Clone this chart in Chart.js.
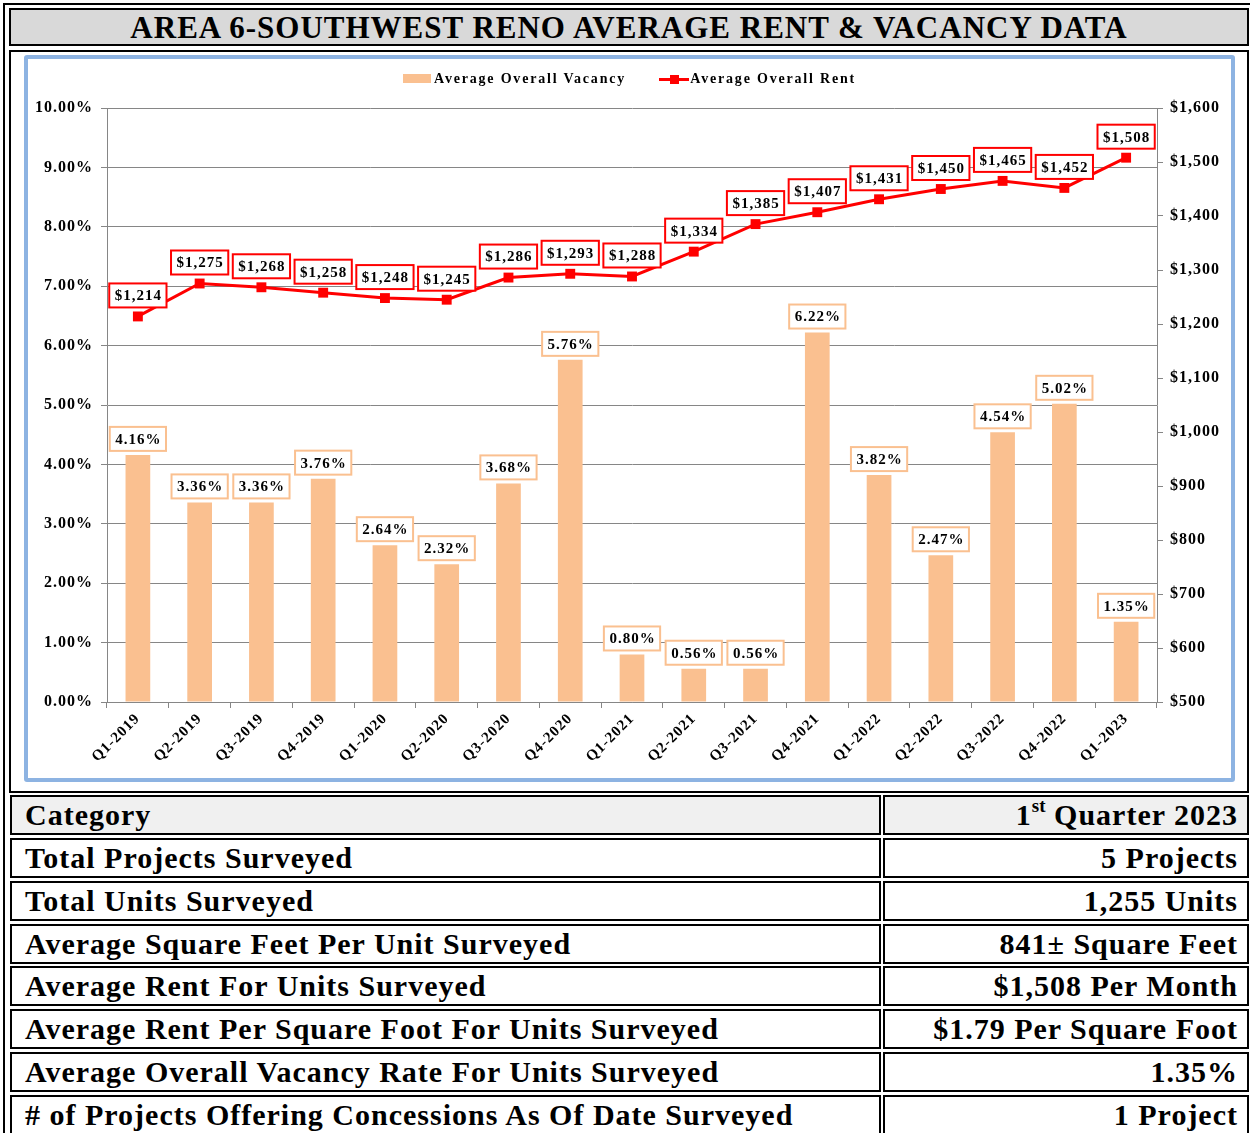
<!DOCTYPE html>
<html>
<head>
<meta charset="utf-8">
<script src="https://cdn.jsdelivr.net/npm/chart.js@4.4.0/dist/chart.umd.min.js"></script>
<style>
  html, body { margin:0; padding:0; background:#fff; }
  body { width:1250px; height:1133px; overflow:hidden; position:relative; font-family:"Liberation Serif","Times New Roman",serif; }
  .abs { position:absolute; box-sizing:border-box; }
  #frame { left:3px; top:3px; width:1270px; height:1200px; border:2px solid #000; }
  .cell { border:2px solid #000; background:#fff; }
  #title { left:9px; top:8px; width:1240px; height:38px; background:#d9d9d9; font-weight:bold; font-size:31px; letter-spacing:1px; text-align:center; line-height:35px; }
  #chartcell { left:9px; top:50px; width:1240px; height:743px; }
  #bluebox { left:24px; top:55px; width:1211px; height:727px; border:4px solid #8db3e2; border-radius:3px; }
  #wrap { left:28px; top:59px; width:1203px; height:719px; }
  #legend { left:28px; top:70px; width:1203px; height:20px; text-align:center; font-weight:bold; font-size:14px; letter-spacing:1.8px; white-space:nowrap; }
  #legend span { display:inline-block; vertical-align:middle; }
  .row { font-weight:bold; font-size:30px; letter-spacing:1px; line-height:36px; white-space:nowrap; }
  .lc { padding-left:13px; }
  .rc { padding-right:9px; text-align:right; }
  sup { font-size:19px; line-height:0; position:relative; top:-2px; letter-spacing:0; }
</style>
</head>
<body>
<div id="frame" class="abs"></div>
<div id="title" class="abs cell">AREA 6-SOUTHWEST RENO AVERAGE RENT &amp; VACANCY DATA</div>
<div id="chartcell" class="abs cell"></div>
<div id="bluebox" class="abs"></div>
<div id="wrap" class="abs"><canvas id="myChart"></canvas></div>
<div id="legend" class="abs">
  <span style="width:28px;height:9px;background:#fac090;margin-right:3px;"></span><span>Average Overall Vacancy</span>
  <span style="width:30px;height:12px;position:relative;margin-left:28px;margin-right:1px;">
    <span style="position:absolute;left:0;top:5px;width:30px;height:3px;background:#ff0000;"></span>
    <span style="position:absolute;left:11px;top:2px;width:9px;height:9px;background:#ff0000;"></span>
  </span><span>Average Overall Rent</span>
</div>

<script>
var quarters = ['Q1-2019','Q2-2019','Q3-2019','Q4-2019','Q1-2020','Q2-2020','Q3-2020','Q4-2020',
                'Q1-2021','Q2-2021','Q3-2021','Q4-2021','Q1-2022','Q2-2022','Q3-2022','Q4-2022','Q1-2023'];
var vacancy  = [4.16, 3.36, 3.36, 3.76, 2.64, 2.32, 3.68, 5.76, 0.80, 0.56, 0.56, 6.22, 3.82, 2.47, 4.54, 5.02, 1.35];
var rent     = [1214, 1275, 1268, 1258, 1248, 1245, 1286, 1293, 1288, 1334, 1385, 1407, 1431, 1450, 1465, 1452, 1508];

var tableLabels = ['Category','Total Projects Surveyed','Total Units Surveyed','Average Square Feet Per Unit Surveyed',
                   'Average Rent For Units Surveyed','Average Rent Per Square Foot For Units Surveyed',
                   'Average Overall Vacancy Rate For Units Surveyed','# of Projects Offering Concessions As Of Date Surveyed'];
var tableValues = ['1<sup>st</sup> Quarter 2023','5 Projects','1,255 Units','841\u00b1 Square Feet',
                   '$1,508 Per Month','$1.79 Per Square Foot','1.35%','1 Project'];

// build the summary table
tableLabels.forEach(function(lbl, i){
  var top = 795 + Math.round(i * 42.86);
  var bg = i === 0 ? '#f0f0f0' : '#fff';
  var l = document.createElement('div');
  l.className = 'abs cell row lc';
  l.style.cssText = 'left:10px;top:'+top+'px;width:871px;height:40px;background:'+bg;
  l.textContent = lbl;
  document.body.appendChild(l);
  var r = document.createElement('div');
  r.className = 'abs cell row rc';
  r.style.cssText = 'left:883px;top:'+top+'px;width:366px;height:40px;background:'+bg;
  r.innerHTML = tableValues[i];
  document.body.appendChild(r);
});

function money(v){
  return '$' + v.toString().replace(/\B(?=(\d{3})+(?!\d))/g, ',');
}

// wider letter spacing, like the original excel rendering
var spacing = {
  id: 'spacing',
  beforeLayout: function(chart){ chart.ctx.letterSpacing = '1px'; },
  beforeDraw: function(chart){ chart.ctx.letterSpacing = '1px'; }
};

// boxed data labels above each mark
var boxLabels = {
  id: 'boxLabels',
  afterDatasetsDraw: function(chart){
    var ctx = chart.ctx;
    ctx.save();
    ctx.letterSpacing = '1px';
    ctx.font = 'bold 15px "Liberation Serif"';
    ctx.textAlign = 'center';
    ctx.textBaseline = 'middle';
    [1, 0].forEach(function(di){
      var meta = chart.getDatasetMeta(di);
      var ds = chart.data.datasets[di];
      meta.data.forEach(function(el, i){
        var txt = ds.type === 'line' ? money(ds.data[i]) : ds.data[i].toFixed(2) + '%';
        var cy = ds.type === 'line' ? el.y - 21 : el.y - 16;
        var w = ctx.measureText(txt).width + 10;
        var h = 24;
        ctx.fillStyle = '#fff';
        ctx.fillRect(el.x - w/2, cy - h/2, w, h);
        ctx.lineWidth = 2;
        ctx.strokeStyle = ds.type === 'line' ? '#ff0000' : '#fac090';
        ctx.strokeRect(el.x - w/2, cy - h/2, w, h);
        ctx.fillStyle = '#000';
        ctx.fillText(txt, el.x + 0.5, cy + 1);
      });
    });
    ctx.restore();
  }
};

var tickFont = { family: '"Liberation Serif"', size: 16, weight: 'bold' };

var ctx = document.getElementById('myChart');
window.chart = new Chart(ctx, {
  type: 'bar',
  data: {
    labels: quarters,
    datasets: [{
      type: 'line',
      label: 'Average Overall Rent',
      data: rent,
      yAxisID: 'y1',
      borderColor: '#ff0000',
      backgroundColor: '#ff0000',
      borderWidth: 3,
      pointStyle: 'rect',
      pointRadius: 7,
      pointBorderWidth: 0,
      tension: 0,
      order: 0
    }, {
      type: 'bar',
      label: 'Average Overall Vacancy',
      data: vacancy,
      yAxisID: 'y',
      backgroundColor: '#fac090',
      barPercentage: 0.4,
      categoryPercentage: 1,
      order: 1
    }]
  },
  options: {
    responsive: true,
    maintainAspectRatio: false,
    animation: false,
    layout: { padding: { top: 49, left: 0, right: 0, bottom: 0 } },
    plugins: { legend: { display: false }, tooltip: { enabled: false } },
    scales: {
      x: {
        grid: { display: true, drawOnChartArea: false, offset: true, color: '#868686', tickLength: 6 },
        border: { color: '#868686' },
        ticks: { font: { family: '"Liberation Serif"', size: 15, weight: 'bold' }, color: '#000',
                 minRotation: 45, maxRotation: 45, autoSkip: false, padding: 2 },
        afterFit: function(s){ s.height = 76; }
      },
      y: {
        position: 'left',
        min: 0, max: 10,
        ticks: { stepSize: 1, font: tickFont, color: '#000', padding: 8,
                 callback: function(v){ return v.toFixed(2) + '%'; } },
        grid: { color: '#868686', tickLength: 6 },
        border: { color: '#868686' },
        afterFit: function(s){ s.width = 79; }
      },
      y1: {
        position: 'right',
        min: 500, max: 1600,
        ticks: { stepSize: 100, font: tickFont, color: '#000', padding: 7,
                 callback: function(v){ return money(v); } },
        grid: { drawOnChartArea: false, color: '#868686', tickLength: 6 },
        border: { color: '#868686' },
        afterFit: function(s){ s.width = 74; }
      }
    }
  },
  plugins: [spacing, boxLabels]
});
</script>
</body>
</html>
